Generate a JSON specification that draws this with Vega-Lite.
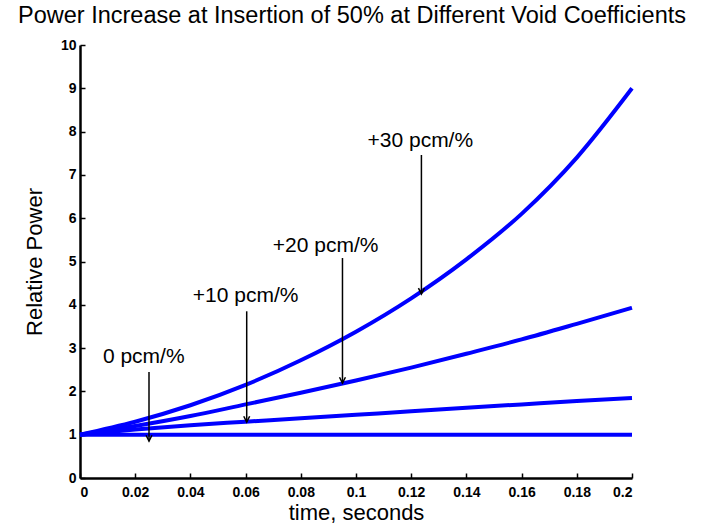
{
  "$schema": "https://vega.github.io/schema/vega-lite/v6.json",
  "width": 552,
  "height": 433,
  "autosize": "none",
  "padding": {"left": 80, "top": 45, "right": 70, "bottom": 50},
  "background": "white",
  "title": {"text": "Power Increase at Insertion of 50% at Different Void Coefficients", "font": "Liberation Sans", "fontSize": 23.5, "fontWeight": "normal", "color": "black", "anchor": "middle", "offset": 11, "dx": -4},
  "config": {
    "view": {"stroke": null},
    "axis": {"domainColor": "black", "domainWidth": 2.5, "tickColor": "black", "tickWidth": 1.5, "grid": false, "labelFont": "Liberation Sans", "labelFontWeight": "bold", "labelFontSize": 14, "labelColor": "black", "titleFont": "Liberation Sans", "titleFontWeight": "normal", "titleFontSize": 22, "titleColor": "black"}
  },
  "datasets": {
    "curves": [
      {"series": "0", "t": 0, "p": 1}, {"series": "0", "t": 0.1, "p": 1}, {"series": "0", "t": 0.2, "p": 1},
      {"series": "+10", "t": 0, "p": 1}, {"series": "+10", "t": 0.02, "p": 1.12}, {"series": "+10", "t": 0.04, "p": 1.22}, {"series": "+10", "t": 0.06, "p": 1.3}, {"series": "+10", "t": 0.08, "p": 1.38}, {"series": "+10", "t": 0.1, "p": 1.46}, {"series": "+10", "t": 0.12, "p": 1.54}, {"series": "+10", "t": 0.14, "p": 1.62}, {"series": "+10", "t": 0.16, "p": 1.7}, {"series": "+10", "t": 0.18, "p": 1.78}, {"series": "+10", "t": 0.2, "p": 1.85},
      {"series": "+20", "t": 0, "p": 1}, {"series": "+20", "t": 0.02, "p": 1.2}, {"series": "+20", "t": 0.04, "p": 1.43}, {"series": "+20", "t": 0.06, "p": 1.7}, {"series": "+20", "t": 0.08, "p": 1.97}, {"series": "+20", "t": 0.1, "p": 2.25}, {"series": "+20", "t": 0.12, "p": 2.55}, {"series": "+20", "t": 0.14, "p": 2.87}, {"series": "+20", "t": 0.16, "p": 3.2}, {"series": "+20", "t": 0.18, "p": 3.56}, {"series": "+20", "t": 0.2, "p": 3.93},
      {"series": "+30", "t": 0, "p": 1}, {"series": "+30", "t": 0.02, "p": 1.3}, {"series": "+30", "t": 0.04, "p": 1.68}, {"series": "+30", "t": 0.06, "p": 2.15}, {"series": "+30", "t": 0.08, "p": 2.72}, {"series": "+30", "t": 0.1, "p": 3.38}, {"series": "+30", "t": 0.12, "p": 4.15}, {"series": "+30", "t": 0.14, "p": 5.05}, {"series": "+30", "t": 0.16, "p": 6.1}, {"series": "+30", "t": 0.18, "p": 7.4}, {"series": "+30", "t": 0.2, "p": 9.0}
    ],
    "notes": [
      {"label": "0 pcm/%", "lx": 0.0231, "ly": 2.79, "t": 0.025, "top": 2.45, "tip": 0.85},
      {"label": "+10 pcm/%", "lx": 0.06, "ly": 4.2, "t": 0.0604, "top": 3.85, "tip": 1.29},
      {"label": "+20 pcm/%", "lx": 0.089, "ly": 5.36, "t": 0.0951, "top": 5.08, "tip": 2.19},
      {"label": "+30 pcm/%", "lx": 0.1233, "ly": 7.78, "t": 0.1237, "top": 7.46, "tip": 4.25}
    ]
  },
  "layer": [
    {
      "data": {"name": "curves"},
      "mark": {"type": "line", "interpolate": "monotone", "strokeWidth": 4, "color": "#0000ff"},
      "encoding": {
        "x": {"field": "t", "type": "quantitative", "scale": {"domain": [0, 0.2], "nice": false}, "axis": {"title": "time, seconds", "values": [0, 0.02, 0.04, 0.06, 0.08, 0.1, 0.12, 0.14, 0.16, 0.18, 0.2], "format": "~g", "tickSize": -5, "labelPadding": 12, "titlePadding": 3}},
        "y": {"field": "p", "type": "quantitative", "scale": {"domain": [0, 10], "nice": false}, "axis": {"title": "Relative Power", "values": [0, 1, 2, 3, 4, 5, 6, 7, 8, 9, 10], "tickSize": -5, "labelPadding": 9, "titlePadding": 14}},
        "detail": {"field": "series"}
      }
    },
    {
      "data": {"name": "notes"},
      "mark": {"type": "rule", "strokeWidth": 1.5, "color": "black"},
      "encoding": {"x": {"field": "t", "type": "quantitative"}, "y": {"field": "top", "type": "quantitative"}, "y2": {"field": "tip"}}
    },
    {
      "data": {"name": "notes"},
      "mark": {"type": "point", "shape": "M-0.5,-1L0,0L0.5,-1", "filled": false, "stroke": "black", "strokeWidth": 1.5, "size": 140, "opacity": 1},
      "encoding": {"x": {"field": "t", "type": "quantitative"}, "y": {"field": "tip", "type": "quantitative"}}
    },
    {
      "data": {"name": "notes"},
      "mark": {"type": "text", "font": "Liberation Sans", "fontSize": 21, "color": "black", "baseline": "middle", "align": "center"},
      "encoding": {"x": {"field": "lx", "type": "quantitative"}, "y": {"field": "ly", "type": "quantitative"}, "text": {"field": "label"}}
    }
  ]
}
